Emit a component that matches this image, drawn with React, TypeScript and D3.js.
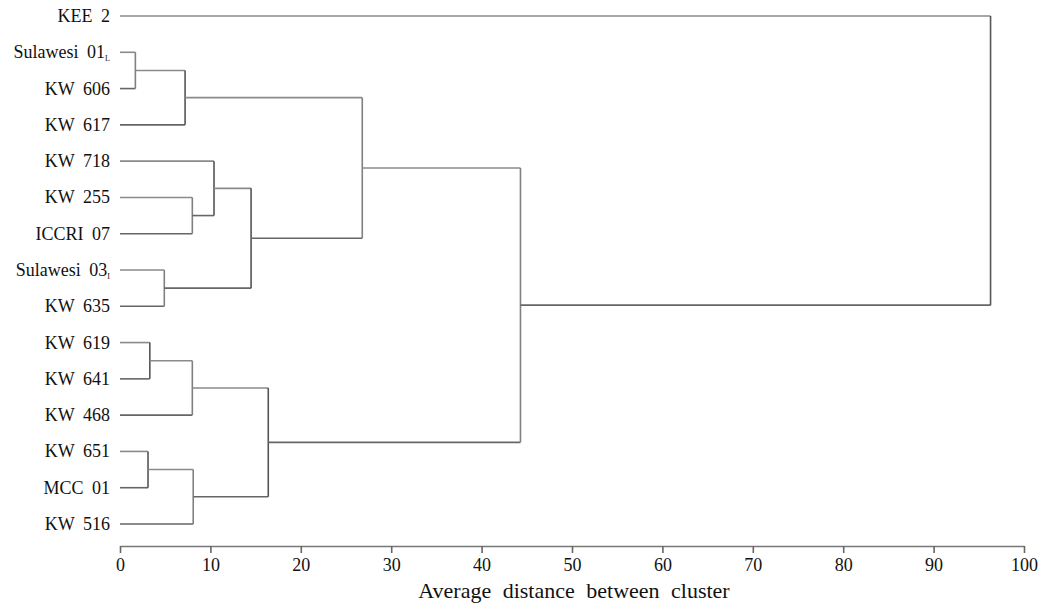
import React, { useRef, useEffect } from 'react';
import * as d3 from 'd3';

// leaf order, top to bottom
const leaves = [
  'KEE 2',
  'Sulawesi 01',
  'KW 606',
  'KW 617',
  'KW 718',
  'KW 255',
  'ICCRI 07',
  'Sulawesi 03',
  'KW 635',
  'KW 619',
  'KW 641',
  'KW 468',
  'KW 651',
  'MCC 01',
  'KW 516',
];

// small subscript tags printed after some labels
const subscripts: Record<string, string> = { 'Sulawesi 01': 'L', 'Sulawesi 03': 'I' };

// merges: [id, left, right, distance]
const merges: [string, string, string, number][] = [
  ['m1', 'Sulawesi 01', 'KW 606', 1.7],
  ['m2', 'm1', 'KW 617', 7.2],
  ['m3', 'KW 255', 'ICCRI 07', 8.0],
  ['m4', 'KW 718', 'm3', 10.4],
  ['m5', 'Sulawesi 03', 'KW 635', 4.9],
  ['m6', 'm4', 'm5', 14.5],
  ['m7', 'm2', 'm6', 26.8],
  ['m8', 'KW 619', 'KW 641', 3.3],
  ['m9', 'm8', 'KW 468', 8.0],
  ['m10', 'KW 651', 'MCC 01', 3.1],
  ['m11', 'm10', 'KW 516', 8.1],
  ['m12', 'm9', 'm11', 16.4],
  ['m13', 'm7', 'm12', 44.3],
  ['m14', 'KEE 2', 'm13', 96.3],
];

const xTicks = [0, 10, 20, 30, 40, 50, 60, 70, 80, 90, 100];

const FONT = 'Liberation Serif';

export default function App() {
  const ref = useRef<SVGSVGElement>(null);

  const w = 1050,
    h = 610;
  const margin = { left: 120, right: 26, top: 16, bottom: 86 };

  useEffect(() => {
    const svg = d3.select(ref.current);
    svg.selectAll('*').remove();

    const x = d3.scaleLinear().domain([0, 100]).range([margin.left, w - margin.right]);
    const y = d3.scalePoint<string>().domain(leaves).range([margin.top, h - margin.bottom]);

    // node positions
    const pos: Record<string, { x: number; y: number }> = {};
    leaves.forEach((l) => (pos[l] = { x: x(0), y: y(l) as number }));
    merges.forEach(([id, a, b, d]) => {
      pos[id] = { x: x(d), y: (pos[a].y + pos[b].y) / 2 };
    });

    const g = svg.append('g');

    // BRANCHES
    merges.forEach(([id, a, b], i) => {
      const p = pos[id];
      const stroke = i % 2 ? '#555' : '#808080';
      [a, b].forEach((c, j) => {
        g.append('line')
          .attr('x1', pos[c].x)
          .attr('x2', p.x)
          .attr('y1', pos[c].y)
          .attr('y2', pos[c].y)
          .attr('stroke', j ? '#666' : '#8a8a8a')
          .attr('stroke-width', 1.6);
      });
      g.append('line')
        .attr('x1', p.x)
        .attr('x2', p.x)
        .attr('y1', pos[a].y)
        .attr('y2', pos[b].y)
        .attr('stroke', stroke)
        .attr('stroke-width', 1.6);
    });

    // LABELS
    const lab = g
      .selectAll('.lab')
      .data(leaves)
      .enter()
      .append('text')
      .attr('x', margin.left - 10)
      .attr('y', (d) => (y(d) as number) + 6)
      .attr('text-anchor', 'end')
      .attr('font-family', FONT)
      .attr('font-size', 18)
      .style('word-spacing', '4px')
      .attr('fill', '#111');
    lab.append('tspan').text((d) => d);
    lab
      .filter((d) => !!subscripts[d])
      .append('tspan')
      .attr('font-size', 8)
      .attr('dy', 3)
      .text((d) => subscripts[d]);

    // AXIS
    const axisY = 546;
    const ax = svg.append('g').attr('transform', `translate(0,${axisY})`);
    ax.call(d3.axisBottom(x).tickValues(xTicks).tickSize(7).tickSizeOuter(0).tickPadding(5));
    ax.attr('font-family', FONT).attr('font-size', 18);
    ax.select('.domain').attr('stroke', '#777').attr('stroke-width', 1.6);
    ax.selectAll('.tick line').attr('stroke', '#666').attr('stroke-width', 1.6);
    ax.selectAll('.tick text').attr('fill', '#111');

    svg
      .append('text')
      .attr('x', 574)
      .attr('y', 598)
      .attr('text-anchor', 'middle')
      .attr('font-family', FONT)
      .attr('font-size', 22)
      .style('word-spacing', '6px')
      .attr('fill', '#111')
      .text('Average distance between cluster');
  }, []);

  return (
    <div style={{ position: 'absolute', left: 0, top: 0 }}>
      <svg ref={ref} width={w} height={h} style={{ display: 'block', background: '#fff' }} />
    </div>
  );
}
